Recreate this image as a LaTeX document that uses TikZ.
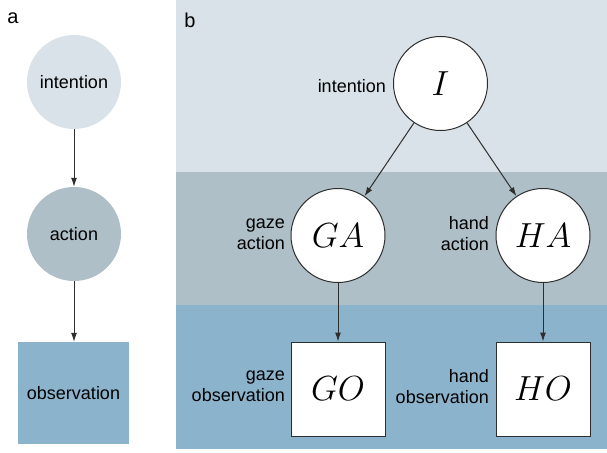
\documentclass[tikz,border=0pt]{standalone}
\usepackage{fontspec}
\setmainfont{Liberation Sans}
\usetikzlibrary{arrows.meta}
\definecolor{bandtop}{HTML}{D9E2E8}
\definecolor{bandmid}{HTML}{AEBFC7}
\definecolor{bandlow}{HTML}{8CB3CC}
\definecolor{ink}{HTML}{2E2E2E}
\newcommand{\bigvar}[1]{\scalebox{1.4}{$#1$}}
\begin{document}
\begin{tikzpicture}[x=1pt,y=-1pt,
  lbl/.style={font=\fontsize{18}{21}\selectfont, text=black},
  var/.style={font=\fontsize{24.88}{28}\selectfont},
  rv/.style={circle, minimum size=94pt, inner sep=0pt},
  obsbox/.style={rectangle, minimum size=94pt, inner sep=0pt},
  wnode/.style={draw=ink, line width=1pt, fill=white},
  link/.style={draw=ink, line width=1pt, -{Latex[length=9pt,width=6pt]}},
  side/.style={lbl, anchor=east, align=right, inner sep=0pt}]
\useasboundingbox (0,0) rectangle (607,452);

% panel labels
\node[lbl, font=\fontsize{20}{22}\selectfont, anchor=center] (pa) at (13,18) {a};

% panel b background bands
\fill[bandtop] (176,0) rectangle (607,172);
\fill[bandmid] (176,172) rectangle (607,305);
\fill[bandlow] (176,305) rectangle (607,449);
\node[lbl, font=\fontsize{20}{22}\selectfont, anchor=center] (pb) at (190,20) {b};

% panel a: generic model
\node[rv, fill=bandtop, lbl] (ai) at (74,82) {intention};
\node[rv, fill=bandmid, lbl] (aa) at (74,234) {action};
\node[rectangle, minimum width=111pt, minimum height=102pt, inner sep=0pt, fill=bandlow, lbl] (ao) at (73.5,393) {observation};
\draw[link] (ai) -- (aa);
\draw[link] (aa) -- (ao.north -| aa);

% panel b: gaze and hand model
\node[rv, wnode, var] (I) at (440.5,83.5) {\bigvar{I}};
\node[rv, wnode, var] (GA) at (338,235.5) {\bigvar{GA}};
\node[rv, wnode, var] (HA) at (543,235.5) {\bigvar{HA}};
\node[obsbox, wnode, var] (GO) at (338,389) {\bigvar{GO}};
\node[obsbox, wnode, var] (HO) at (543,389) {\bigvar{HO}};

\draw[link] (I) -- (GA);
\draw[link] (I) -- (HA);
\draw[link] (GA) -- (GO);
\draw[link] (HA) -- (HO);

% side captions
\node[side] (tI) at (386,86) {intention};
\node[side] (tGA) at (285,234) {gaze\\action};
\node[side] (tHA) at (489,234) {hand\\action};
\node[side] (tGO) at (285,386.5) {gaze\\observation};
\node[side] (tHO) at (489,386.5) {hand\\observation};
\end{tikzpicture}
\end{document}
